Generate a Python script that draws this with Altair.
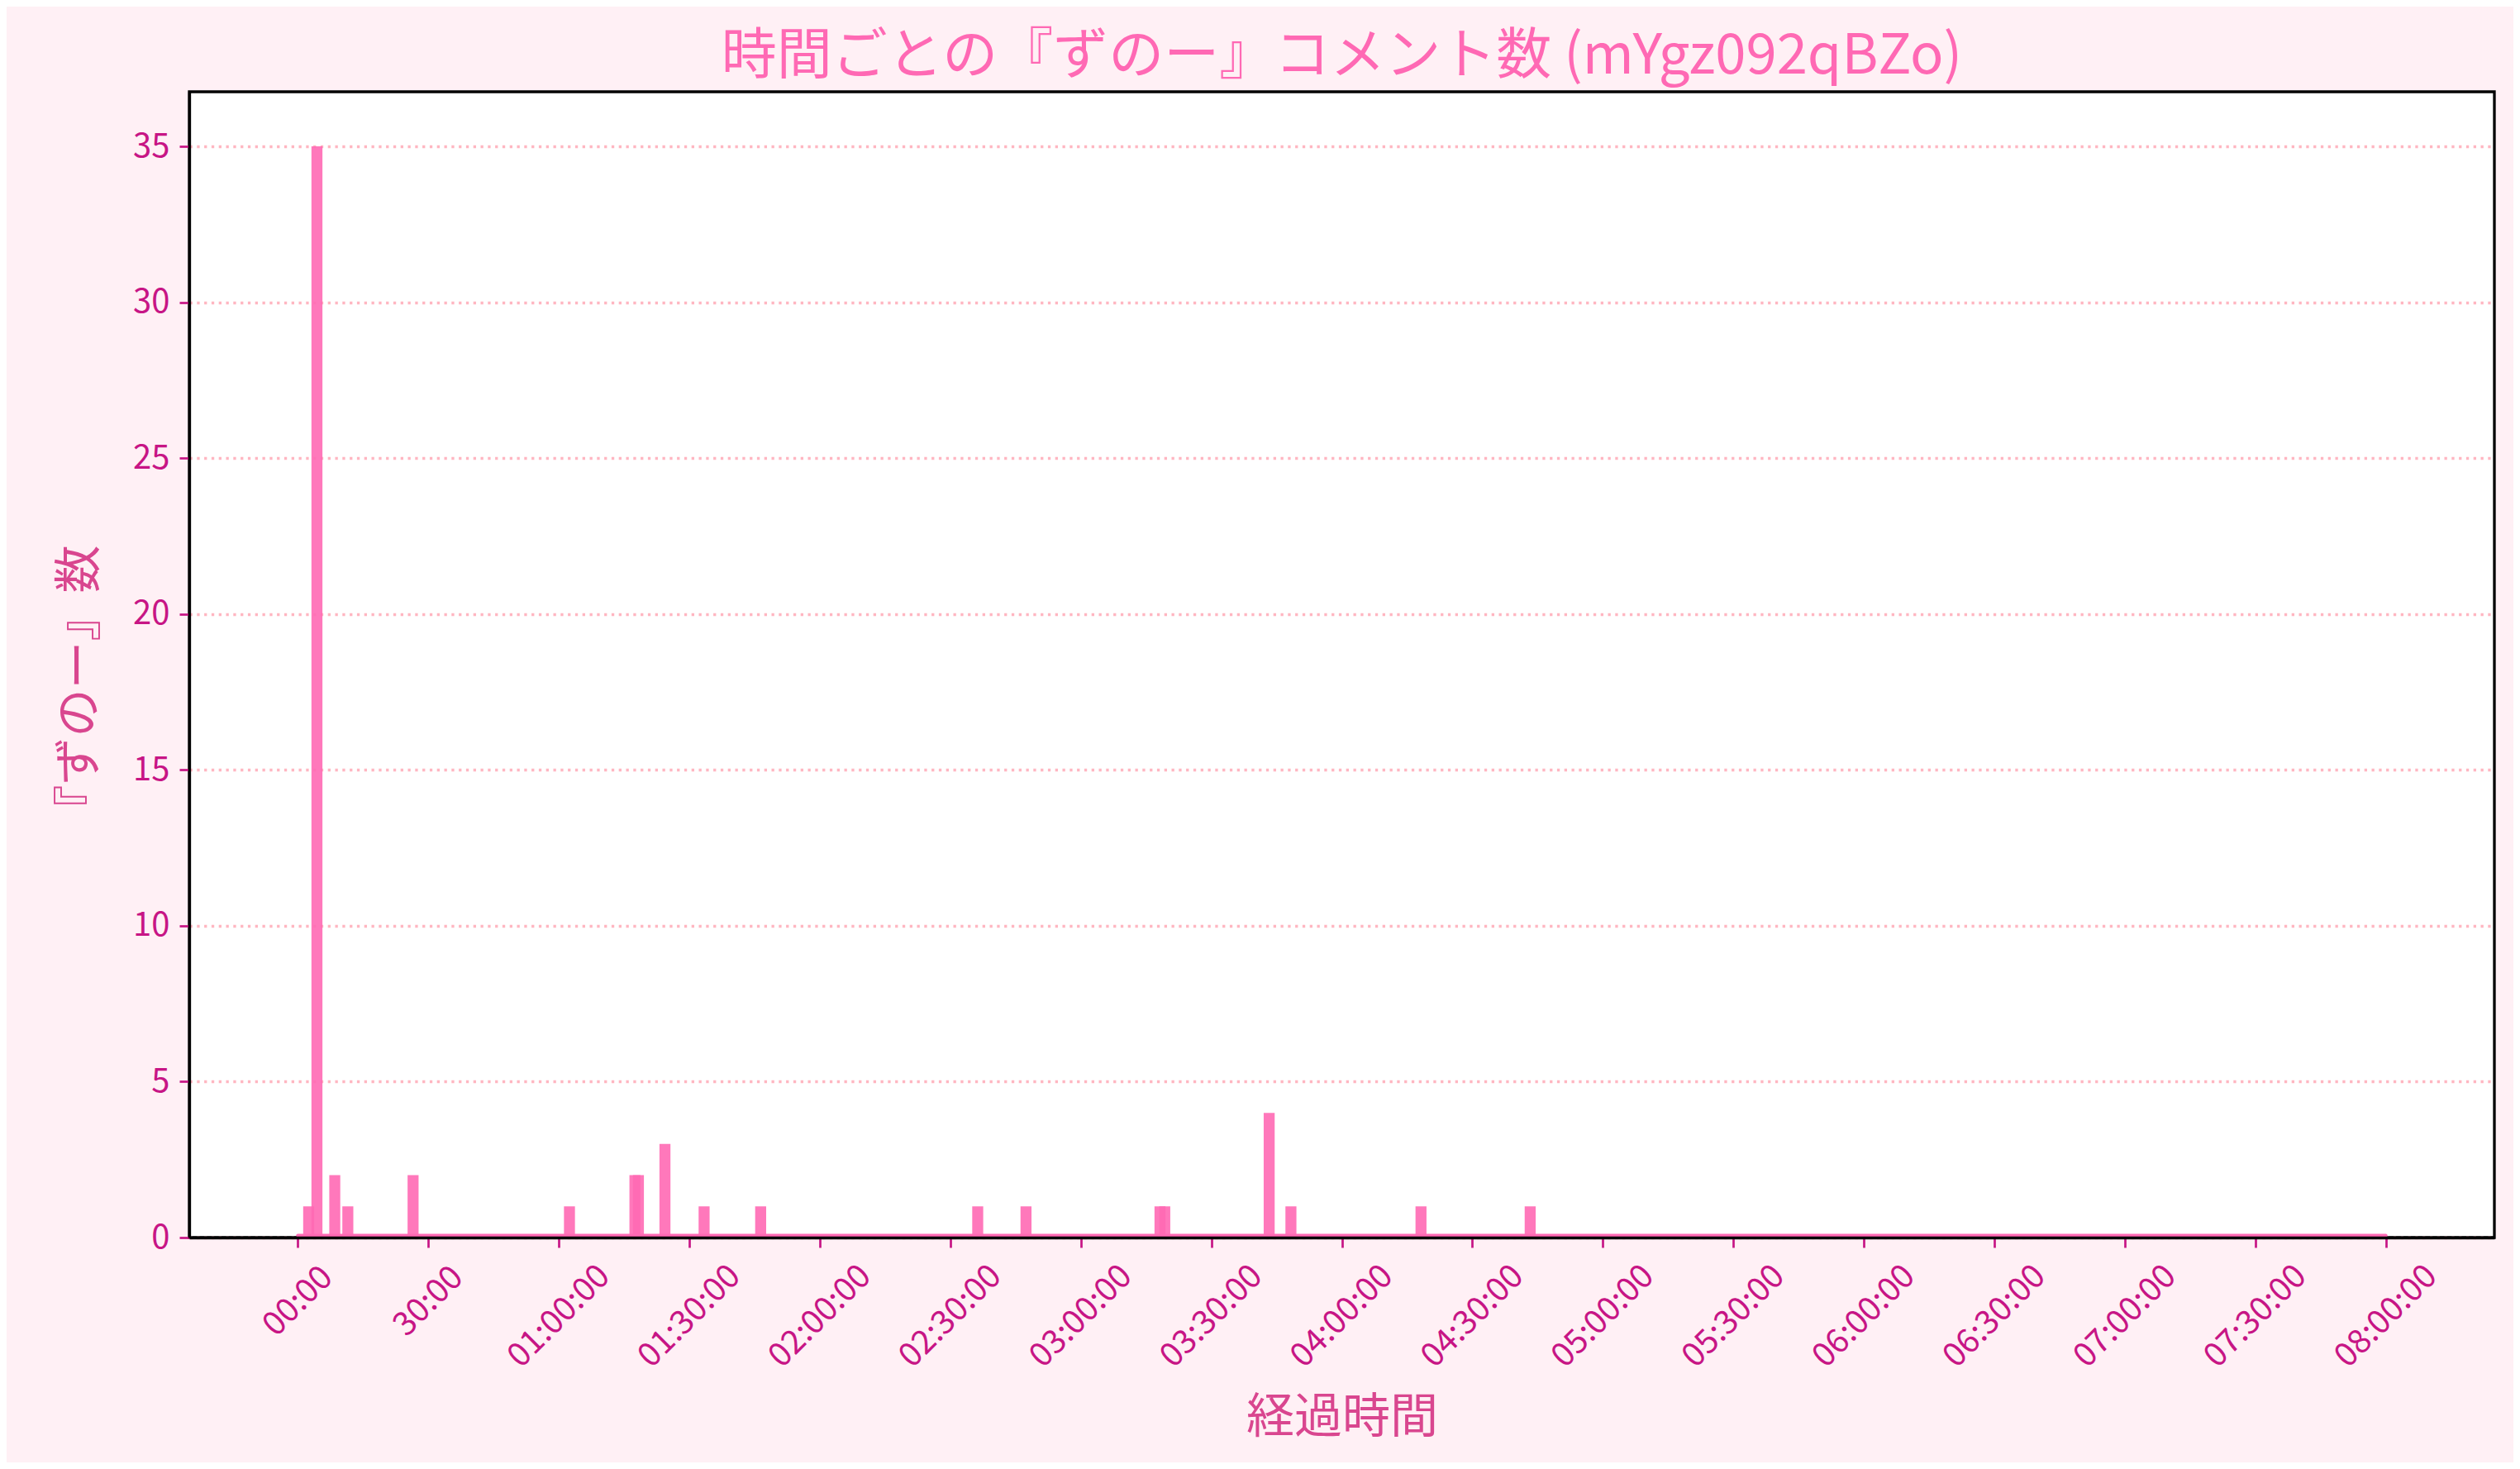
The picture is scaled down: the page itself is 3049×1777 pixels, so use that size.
import altair as alt
import pandas as pd

# ---- data (minutes since start, comment counts) ----
minutes = [2.5, 4.4, 8.5, 11.5, 26.5, 62.45, 77.5, 78.3, 84.4, 93.4, 106.4,
           156.3, 167.4, 198.2, 199.3, 223.3, 228.3, 258.2, 283.3]
counts = [1, 35, 2, 1, 2, 1, 2, 2, 3, 1, 1, 1, 1, 1, 1, 4, 1, 1, 1]
span_start = [0]
span_end = [480]
short_ticks = [0, 30]
long_ticks = [60, 90, 120, 150, 180, 210, 240, 270, 300, 330, 360, 390, 420, 450, 480]
y_ticks = [0, 5, 10, 15, 20, 25, 30, 35]
x_domain = [-24, 504]
y_domain = [0, 36.75]

title_text = "時間ごとの『ずのー』コメント数 (mYgz092qBZo)"
x_title = "経過時間"
y_title = "『ずのー』数"

FONT = "Noto Sans CJK JP"
PINK = "#ff69b4"
TICK = "#c71585"
LABEL = "#d9468f"

bars_df = pd.DataFrame({"minute": minutes, "count": counts})
span_df = pd.DataFrame({"start": span_start, "end": span_end})

label_expr = ("datum.value < 60 ? format(datum.value, '02d') + ':00' : "
              "format(floor(datum.value / 60), '02d') + ':' + "
              "format(datum.value % 60, '02d') + ':00'")

common_axis = dict(
    orient="bottom", grid=False, labelExpr=label_expr, labelAngle=-45,
    labelAlign="center", labelBaseline="middle", labelFontSize=40,
    labelColor=TICK, labelFont=FONT, tickColor=TICK, tickSize=12, tickWidth=2.7,
    labelOverlap=False, labelFlush=False,
)

x_scale = alt.Scale(domain=x_domain, nice=False, zero=False)
y_scale = alt.Scale(domain=y_domain, nice=False, zero=False)

bars = alt.Chart(bars_df).mark_bar(width=13.3, color=PINK, opacity=0.9).encode(
    x=alt.X("minute:Q", scale=x_scale,
            axis=alt.Axis(values=long_ticks, labelPadding=83, domain=True,
                          domainColor="black", domainWidth=3.3, zindex=1,
                          title=x_title, titleFontSize=58, titleColor=LABEL,
                          titleFont=FONT, titleFontWeight="normal", titlePadding=25,
                          **common_axis)),
    y=alt.Y("count:Q", scale=y_scale,
            axis=alt.Axis(values=y_ticks, grid=True, gridColor="#ffb6c1",
                          gridDash=[3.3, 5.5], gridWidth=3.3,
                          domain=True, domainColor="black", domainWidth=3.3,
                          labelFontSize=40, labelColor=TICK, labelFont=FONT,
                          labelPadding=12, tickColor=TICK, tickSize=12, tickWidth=2.7,
                          title=y_title, titleFontSize=58, titleColor=LABEL,
                          titleFont=FONT, titleFontWeight="normal", titlePadding=34,
                          titleY=722)),
)

zero_line = alt.Chart(span_df).mark_rule(
    color=PINK, strokeWidth=4, strokeCap="round", yOffset=-2.5
).encode(
    x=alt.X("start:Q", scale=x_scale,
            axis=alt.Axis(values=short_ticks, labelPadding=65, domain=False,
                          title=None, **common_axis)),
    x2="end:Q",
    y=alt.datum(0),
)

chart = alt.layer(zero_line, bars).resolve_axis(x="independent").properties(
    width=2789,
    height=1386,
    autosize=alt.AutoSizeParams(type="none"),
    padding={"left": 221, "top": 103, "right": 23, "bottom": 272},
    background="#fff0f5",
    title=alt.TitleParams(title_text, fontSize=67, color=PINK, font=FONT,
                          fontWeight="normal", anchor="middle", offset=8),
).configure(
    font=FONT,
    view=alt.ViewConfig(fill="white", stroke="black", strokeWidth=3.3),
)

chart.save("out.html", embed_options={"renderer": "svg", "actions": False})
